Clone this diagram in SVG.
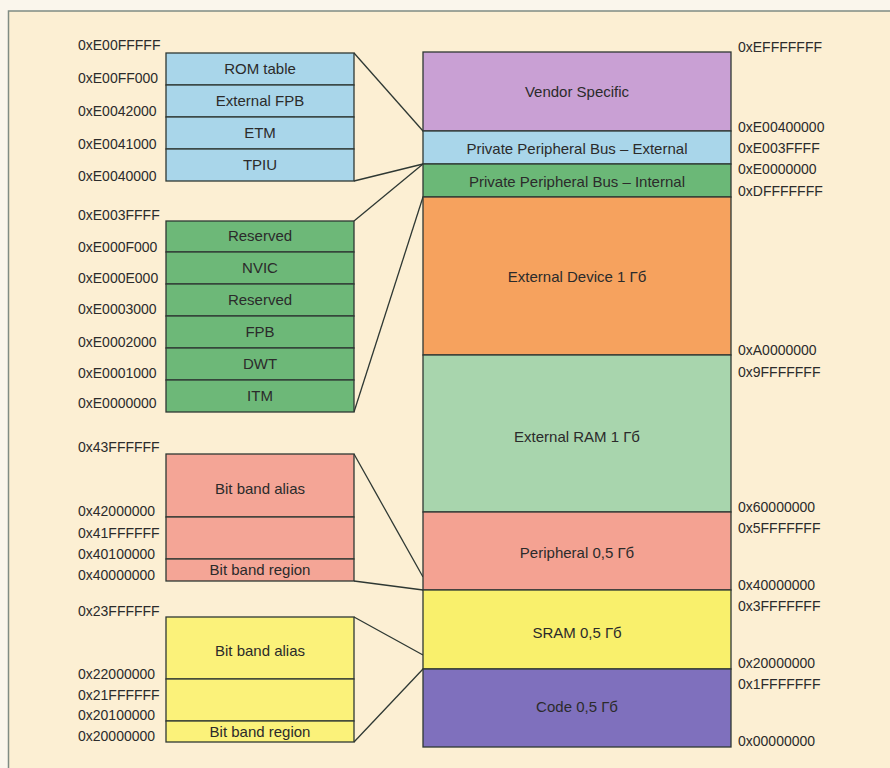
<svg xmlns="http://www.w3.org/2000/svg" width="890" height="768" viewBox="0 0 890 768">
<defs>
<style>
.bx{stroke:#2e3833;stroke-width:1.3}
.ln{stroke:#2e3833;stroke-width:1.3;fill:none}
.hx{font-family:"Liberation Sans",Arial,sans-serif;font-size:14px;fill:#2b2b2b}
.lb{font-family:"Liberation Sans",Arial,sans-serif;font-size:15px;fill:#2b2b2b;text-anchor:middle}
.blue{fill:#a9d6ea}.grn{fill:#6db878}.red{fill:#f4a596}.yel{fill:#fbf27a}
</style>
</defs>
<rect x="0" y="0" width="890" height="768" fill="#faf6ec"/>
<rect x="8.5" y="11" width="900" height="800" fill="#fcefd3" stroke="#7f8c84" stroke-width="1.5"/>

<g id="connectors">
<line class="ln" x1="354" y1="53" x2="423" y2="131"/>
<line class="ln" x1="354" y1="181" x2="423" y2="164"/>
<line class="ln" x1="354" y1="221" x2="423" y2="164"/>
<line class="ln" x1="354" y1="412" x2="423" y2="197"/>
<line class="ln" x1="354" y1="454" x2="423" y2="577"/>
<line class="ln" x1="354" y1="581" x2="423" y2="590"/>
<line class="ln" x1="354" y1="617" x2="423" y2="655"/>
<line class="ln" x1="354" y1="742" x2="423" y2="669"/>
</g>

<g id="main-map">
<rect class="bx" x="423" y="52" width="308" height="79" fill="#c9a0d4"/>
<text class="lb" x="577" y="97">Vendor Specific</text>
<rect class="bx" x="423" y="131" width="308" height="33" fill="#a9d6ea"/>
<text class="lb" x="577" y="154">Private Peripheral Bus – External</text>
<rect class="bx" x="423" y="164" width="308" height="33" fill="#6bb877"/>
<text class="lb" x="577" y="187">Private Peripheral Bus – Internal</text>
<rect class="bx" x="423" y="197" width="308" height="158" fill="#f6a25e"/>
<text class="lb" x="577" y="282">External Device 1 Гб</text>
<rect class="bx" x="423" y="355" width="308" height="157" fill="#a8d5ad"/>
<text class="lb" x="577" y="442">External RAM 1 Гб</text>
<rect class="bx" x="423" y="512" width="308" height="78" fill="#f4a292"/>
<text class="lb" x="577" y="558">Peripheral 0,5 Гб</text>
<rect class="bx" x="423" y="590" width="308" height="79" fill="#f9f06c"/>
<text class="lb" x="577" y="638">SRAM 0,5 Гб</text>
<rect class="bx" x="423" y="669" width="308" height="78" fill="#7f70bd"/>
<text class="lb" x="577" y="712">Code 0,5 Гб</text>
</g>

<g id="main-addresses">
<text class="hx" x="738" y="52">0xEFFFFFFF</text>
<text class="hx" x="738" y="132">0xE00400000</text>
<text class="hx" x="738" y="153">0xE003FFFF</text>
<text class="hx" x="738" y="174">0xE0000000</text>
<text class="hx" x="738" y="196">0xDFFFFFFF</text>
<text class="hx" x="738" y="355">0xA0000000</text>
<text class="hx" x="738" y="377">0x9FFFFFFF</text>
<text class="hx" x="738" y="512">0x60000000</text>
<text class="hx" x="738" y="533">0x5FFFFFFF</text>
<text class="hx" x="738" y="590">0x40000000</text>
<text class="hx" x="738" y="611">0x3FFFFFFF</text>
<text class="hx" x="738" y="668">0x20000000</text>
<text class="hx" x="738" y="689">0x1FFFFFFF</text>
<text class="hx" x="738" y="746">0x00000000</text>
</g>

<g id="ppb-external">
<rect class="bx blue" x="166" y="53" width="188" height="32"/>
<rect class="bx blue" x="166" y="85" width="188" height="32"/>
<rect class="bx blue" x="166" y="117" width="188" height="32"/>
<rect class="bx blue" x="166" y="149" width="188" height="32"/>
<text class="lb" x="260" y="74">ROM table</text>
<text class="lb" x="260" y="106">External FPB</text>
<text class="lb" x="260" y="138">ETM</text>
<text class="lb" x="260" y="170">TPIU</text>
<text class="hx" x="78" y="50">0xE00FFFFF</text>
<text class="hx" x="78" y="83">0xE00FF000</text>
<text class="hx" x="78" y="116">0xE0042000</text>
<text class="hx" x="78" y="149">0xE0041000</text>
<text class="hx" x="78" y="181">0xE0040000</text>
</g>

<g id="ppb-internal">
<rect class="bx grn" x="166" y="221" width="188" height="31"/>
<rect class="bx grn" x="166" y="252" width="188" height="32"/>
<rect class="bx grn" x="166" y="284" width="188" height="32"/>
<rect class="bx grn" x="166" y="316" width="188" height="32"/>
<rect class="bx grn" x="166" y="348" width="188" height="32"/>
<rect class="bx grn" x="166" y="380" width="188" height="32"/>
<text class="lb" x="260" y="241">Reserved</text>
<text class="lb" x="260" y="273">NVIC</text>
<text class="lb" x="260" y="305">Reserved</text>
<text class="lb" x="260" y="337">FPB</text>
<text class="lb" x="260" y="369">DWT</text>
<text class="lb" x="260" y="401">ITM</text>
<text class="hx" x="78" y="220">0xE003FFFF</text>
<text class="hx" x="78" y="252">0xE000F000</text>
<text class="hx" x="78" y="283">0xE000E000</text>
<text class="hx" x="78" y="314">0xE0003000</text>
<text class="hx" x="78" y="347">0xE0002000</text>
<text class="hx" x="78" y="378">0xE0001000</text>
<text class="hx" x="78" y="408">0xE0000000</text>
</g>

<g id="peripheral-bitband">
<rect class="bx red" x="166" y="454" width="188" height="63"/>
<rect class="bx red" x="166" y="517" width="188" height="42"/>
<rect class="bx red" x="166" y="559" width="188" height="22"/>
<text class="lb" x="260" y="494">Bit band alias</text>
<text class="lb" x="260" y="575">Bit band region</text>
<text class="hx" x="78" y="452">0x43FFFFFF</text>
<text class="hx" x="78" y="516">0x42000000</text>
<text class="hx" x="78" y="538">0x41FFFFFF</text>
<text class="hx" x="78" y="559">0x40100000</text>
<text class="hx" x="78" y="580">0x40000000</text>
</g>

<g id="sram-bitband">
<rect class="bx yel" x="166" y="617" width="188" height="62"/>
<rect class="bx yel" x="166" y="679" width="188" height="42"/>
<rect class="bx yel" x="166" y="721" width="188" height="21"/>
<text class="lb" x="260" y="656">Bit band alias</text>
<text class="lb" x="260" y="737">Bit band region</text>
<text class="hx" x="78" y="616">0x23FFFFFF</text>
<text class="hx" x="78" y="679">0x22000000</text>
<text class="hx" x="78" y="700">0x21FFFFFF</text>
<text class="hx" x="78" y="720">0x20100000</text>
<text class="hx" x="78" y="741">0x20000000</text>
</g>
</svg>
